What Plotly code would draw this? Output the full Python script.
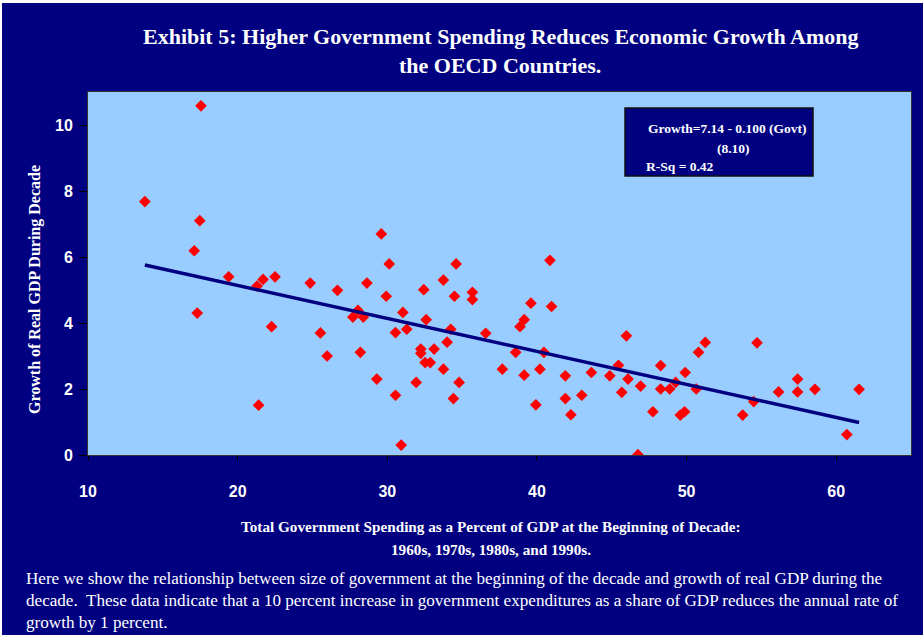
import plotly.graph_objects as go

# Government spending (% of GDP, beginning of decade)
govt = [13.8, 17.55, 17.47, 17.1, 19.4, 21.3, 21.7, 22.5, 24.85, 26.67,
        17.3, 22.27, 25.53, 25.98, 21.4,
        29.6, 30.13, 34.6, 40.87, 28.64, 33.75, 32.44, 29.93, 34.49, 35.69,
        35.69, 39.6, 40.98, 28.04, 27.7, 28.4, 31.04, 32.6, 31.3, 30.55,
        34.24, 36.58, 39.15, 38.87, 34.0, 28.2, 32.24, 32.24, 33.13, 32.53,
        32.87, 33.75, 29.3, 31.93, 34.8, 30.55, 34.42, 30.93, 38.58, 37.69,
        39.15, 40.2, 39.93, 40.47,
        41.9, 41.9, 42.27, 43.0, 43.64, 44.87, 45.45, 46.09, 45.98, 45.67,
        46.93, 47.75, 48.27, 48.27, 48.87, 49.27, 49.91, 50.65, 50.8, 51.25,
        49.58, 49.87, 46.75,
        54.71, 57.42, 56.15, 57.42, 58.58, 61.53, 54.49, 53.75, 60.71]
# Growth of real GDP during decade (%)
growth = [7.68, 10.58, 7.10, 6.19, 5.40, 5.12, 5.32, 5.40, 5.21, 4.99,
          4.30, 3.89, 3.70, 3.00, 1.51,
          6.70, 5.79, 5.79, 5.90, 5.21, 5.30, 5.01, 4.81, 4.81, 4.93,
          4.71, 4.60, 4.50, 4.38, 4.18, 4.18, 4.32, 4.10, 3.81, 3.71,
          3.81, 3.69, 4.10, 3.89, 3.42, 3.11, 3.21, 3.08, 3.21, 2.80,
          2.80, 2.60, 2.30, 2.20, 2.20, 1.81, 1.71, 0.30, 3.11, 2.60,
          2.42, 2.60, 1.52, 3.11,
          2.40, 1.71, 1.22, 1.81, 2.50, 2.40, 2.72, 2.30, 3.61, 1.90,
          2.09, 1.31, 2.71, 2.00, 2.00, 2.20, 2.50, 2.00, 3.11, 3.41,
          1.21, 1.31, 0.01,
          3.40, 2.30, 1.91, 1.91, 1.99, 1.99, 1.62, 1.21, 0.62]

# Regression: Growth = 7.14 - 0.100 (Govt)
intercept = 7.14
slope = -0.100
line_x = [min(govt), max(govt)]
line_y = [intercept + slope * v for v in line_x]

x_ticks = [10, 20, 30, 40, 50, 60]
y_ticks = [0, 2, 4, 6, 8, 10]

NAVY = "#000080"
WHITE = "#ffffff"
SERIF = "Liberation Serif, Times New Roman, serif"
SANS = "Liberation Sans, Arial, sans-serif"

W, H = 923, 635
L, R, T, B = 88, 12, 92, 180
PW, PH = W - L - R, H - T - B

def fx(p):  # pixel x -> paper x
    return (p - L) / PW

def fy(p):  # pixel y -> paper y
    return (H - B - p) / PH

fig = go.Figure()
fig.add_trace(go.Scatter(x=govt, y=growth, mode="markers",
                         marker=dict(symbol="diamond", size=9, color="#ff0000",
                                     line=dict(width=0)),
                         showlegend=False, hoverinfo="x+y"))
fig.add_trace(go.Scatter(x=line_x, y=line_y, mode="lines",
                         line=dict(color=NAVY, width=3.5),
                         showlegend=False, hoverinfo="skip"))

fig.update_layout(
    width=W, height=H,
    paper_bgcolor=NAVY, plot_bgcolor="#99ccff",
    margin=dict(l=L, r=R, t=T, b=B),
    showlegend=False,
    xaxis=dict(range=[10, 65], tickvals=x_ticks, ticktext=["<b>%d</b>" % v for v in x_ticks],
               showgrid=False, zeroline=False, ticks="outside", ticklen=5,
               tickcolor="#000000", showline=True, mirror=True,
               linecolor="#333333", linewidth=1,
               tickfont=dict(family=SANS, size=16, color=WHITE),
               ticklabelstandoff=17),
    yaxis=dict(range=[0, 11], tickvals=y_ticks, ticktext=["<b>%d</b>" % v for v in y_ticks],
               showgrid=False, zeroline=False, ticks="outside", ticklen=8,
               tickcolor="#000000", showline=True, mirror=True,
               linecolor="#333333", linewidth=1,
               tickfont=dict(family=SANS, size=16, color=WHITE),
               ticklabelstandoff=3),
)

texts = [
    ("<b>Exhibit 5: Higher Government Spending Reduces Economic Growth Among</b>", 500, 37, 22),
    ("<b>the OECD Countries.</b>", 500, 65, 22),
    ("<b>Total Government Spending as a Percent of GDP at the Beginning of Decade:</b>", 491, 526, 15.2),
    ("<b>1960s, 1970s, 1980s, and 1990s.</b>", 491, 549, 15.2),
]
for t, x, y, s in texts:
    fig.add_annotation(text=t, xref="paper", yref="paper", x=fx(x), y=fy(y),
                       xanchor="center", yanchor="middle", showarrow=False,
                       font=dict(family=SERIF, size=s, color=WHITE))

foot = ["Here we show the relationship between size of government at the beginning of the decade and growth of real GDP during the",
        "decade.  These data indicate that a 10 percent increase in government expenditures as a share of GDP reduces the annual rate of",
        "growth by 1 percent."]
for i, line in enumerate(foot):
    fig.add_annotation(text=line, xref="paper", yref="paper",
                       x=fx(24), y=fy(578 + 22 * i),
                       xanchor="left", yanchor="middle", showarrow=False,
                       font=dict(family=SERIF, size=17.1, color=WHITE))

# Y axis title
fig.add_annotation(text="<b>Growth of Real GDP During Decade</b>", xref="paper", yref="paper",
                   x=fx(35), y=fy(290), textangle=-90,
                   xanchor="center", yanchor="middle", showarrow=False,
                   font=dict(family=SERIF, size=16, color=WHITE))

# Equation box
bx0, bx1, by0, by1 = 625, 813, 108, 176
fig.add_shape(type="rect", xref="paper", yref="paper",
              x0=fx(bx0), x1=fx(bx1), y0=fy(by1), y1=fy(by0),
              fillcolor=NAVY, line=dict(color="#111111", width=1.5))
eq_lines = [("<b>Growth=7.14 - 0.100 (Govt)</b>", 727, 128, "center"),
            ("<b>(8.10)</b>", 733, 148, "center"),
            ("<b>R-Sq = 0.42</b>", 644, 166, "left")]
for t, x, y, anc in eq_lines:
    fig.add_annotation(text=t, xref="paper", yref="paper", x=fx(x), y=fy(y),
                       xanchor=anc, yanchor="middle", showarrow=False,
                       font=dict(family=SERIF, size=13.5, color=WHITE))

# thin light border at the top and left edges of the picture
fig.add_shape(type="rect", xref="paper", yref="paper", x0=fx(0), x1=fx(W),
              y0=fy(3), y1=fy(0), fillcolor=WHITE, line=dict(width=0), layer="above")
fig.add_shape(type="rect", xref="paper", yref="paper", x0=fx(0), x1=fx(2),
              y0=fy(H), y1=fy(0), fillcolor=WHITE, line=dict(width=0), layer="above")

fig.write_html("out.html", config={"displayModeBar": False},
               post_script="document.body.style.margin='0px';document.body.style.overflow='hidden';")
